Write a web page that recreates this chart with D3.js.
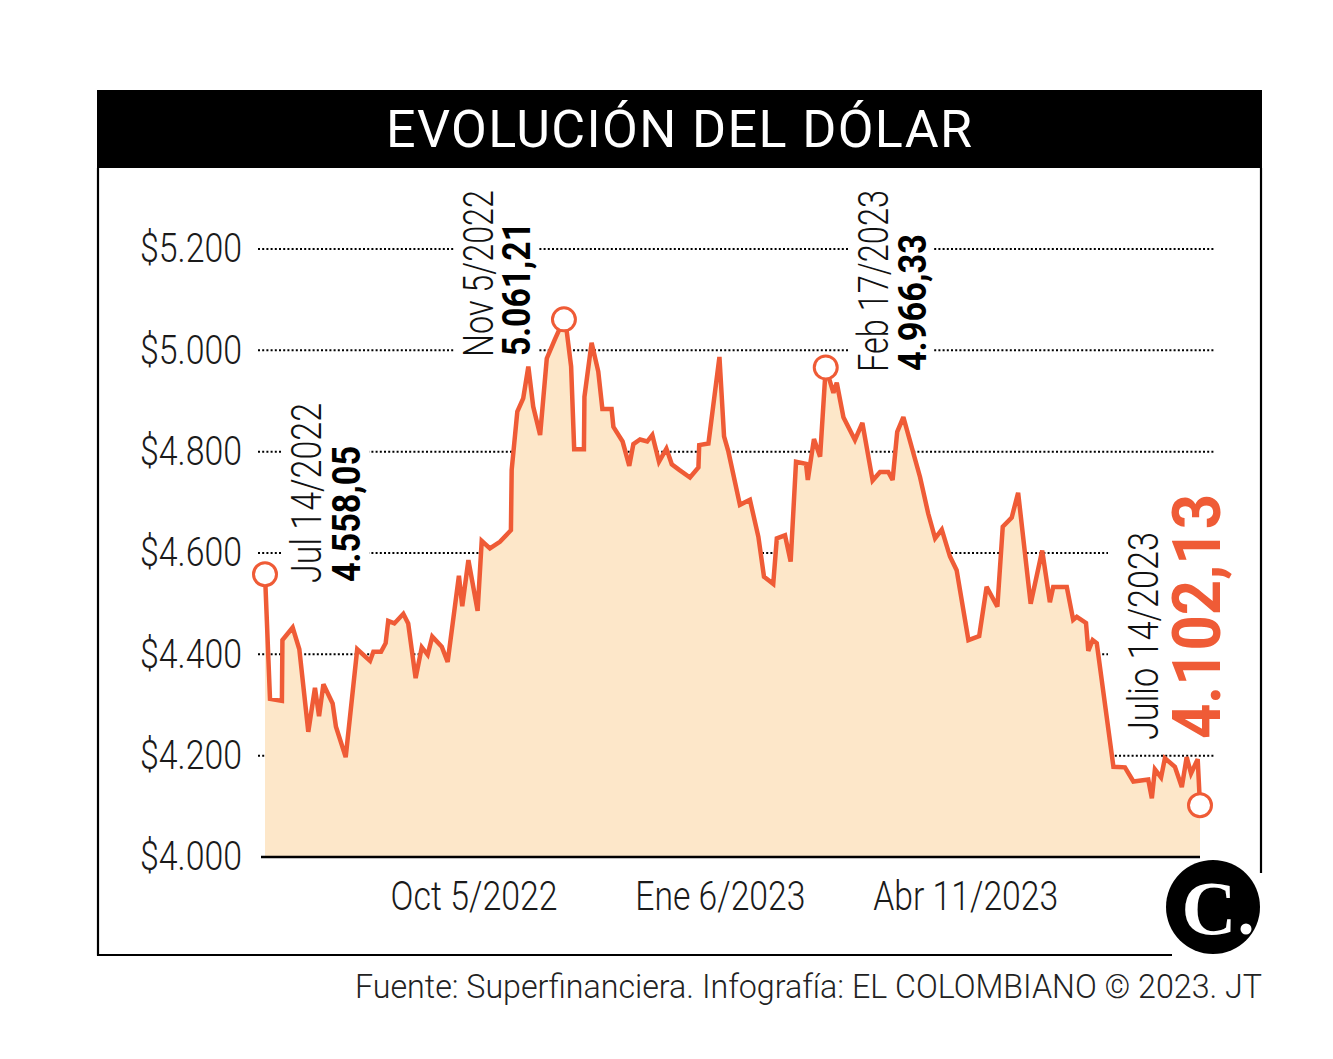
<!DOCTYPE html>
<html>
<head>
<meta charset="utf-8">
<script src="https://cdn.jsdelivr.net/npm/d3@7"></script>
<style>
  html, body { margin: 0; padding: 0; background: #fff; }
  svg { display: block; }
</style>
</head>
<body>
<script>
// ---------------- DATA ----------------
// Days elapsed since 14 Jul 2022 and dollar rate (COP) for each point
const startDate = new Date(2022, 6, 14);
const endDate = new Date(2023, 6, 14);
const days = [0, 1.95, 6.6, 6.8, 10.8, 13.4, 16.9, 19.5, 21.1, 22.8, 26.4, 27.7, 31.5, 36.0, 41.0, 42.3, 45.3, 47.1, 48.1, 50.5, 54.0, 55.9, 58.8, 61.2, 63.5, 65.3, 69.0, 71.3, 75.7, 77.0, 79.4, 83.0, 84.6, 87.8, 91.7, 96.0, 96.3, 98.5, 100.8, 102.8, 104.7, 107.4, 110.0, 113.2, 116.7, 117.8, 119.5, 120.7, 124.5, 124.7, 127.5, 130.1, 131.7, 135.3, 136.0, 139.6, 142.2, 143.8, 146.4, 149.2, 151.2, 153.8, 156.7, 158.8, 161.7, 165.9, 169.2, 169.5, 173.1, 177.4, 179.2, 180.9, 185.4, 189.3, 192.6, 194.8, 198.4, 199.8, 203.0, 205.2, 207.3, 211.2, 211.9, 214.3, 216.7, 218.9, 221.9, 223.2, 225.8, 230.3, 233.2, 237.2, 240.1, 243.3, 245.0, 246.8, 249.2, 255.7, 258.9, 261.6, 264.2, 267.4, 270.0, 274.6, 278.8, 281.7, 285.9, 288.0, 291.5, 294.0, 298.9, 303.4, 306.4, 307.7, 313.0, 315.5, 316.9, 320.5, 321.4, 323.1, 324.7, 331.2, 335.7, 339.0, 344.8, 346.2, 347.4, 349.8, 351.3, 355.2, 357.9, 359.8, 361.5, 364.1, 365];
const values = [4558.05, 4312, 4308, 4428, 4453, 4410, 4247, 4334, 4278, 4341, 4303, 4257, 4197, 4410, 4387, 4405, 4405, 4422, 4466, 4461, 4480, 4461, 4353, 4414, 4399, 4435, 4415, 4385, 4555, 4495, 4586, 4486, 4624, 4609, 4622, 4645, 4764, 4879, 4905, 4968, 4889, 4833, 4984, 5022, 5061.21, 5037, 4968, 4805, 4805, 4908, 5015, 4958, 4884, 4884, 4849, 4820, 4772, 4815, 4824, 4820, 4833, 4780, 4806, 4775, 4764, 4749, 4769, 4813, 4816, 4987, 4830, 4800, 4695, 4705, 4632, 4553, 4539, 4629, 4635, 4583, 4780, 4776, 4744, 4825, 4790, 4966.33, 4916, 4936, 4868, 4823, 4857, 4743, 4760, 4760, 4744, 4839, 4868, 4750, 4678, 4629, 4646, 4593, 4566, 4428, 4436, 4533, 4494, 4652, 4670, 4719, 4500, 4605, 4503, 4533, 4533, 4468, 4474, 4462, 4407, 4428, 4422, 4178, 4177, 4149, 4153, 4116, 4173, 4157, 4195, 4178, 4138, 4197, 4165, 4193, 4102.13];

const yTicks = [4000, 4200, 4400, 4600, 4800, 5000, 5200];
const yTickLabels = ["$4.000", "$4.200", "$4.400", "$4.600", "$4.800", "$5.000", "$5.200"];
const xTickDates = [new Date(2022, 9, 5), new Date(2023, 0, 6), new Date(2023, 3, 11)];
const xTickLabels = ["Oct 5/2022", "Ene 6/2023", "Abr 11/2023"];

// highlighted points: index in data, date label, value label
const highlightIdx = [0, 44, 85, 134];
const highlightDates = ["Jul 14/2022", "Nov 5/2022", "Feb 17/2023", "Julio 14/2023"];
const highlightValues = ["4.558,05", "5.061,21", "4.966,33", "4.102,13"];

const title = "EVOLUCIÓN DEL DÓLAR";
const source = "Fuente: Superfinanciera. Infografía: EL COLOMBIANO © 2023. JT";

// ---------------- LAYOUT ----------------
const W = 1333, H = 1059;
const ORANGE = "#EF5B36";
const FILL = "#FDE7C9";
const FONT = "Roboto, 'Noto Sans', sans-serif";

const data = days.map((d, i) => ({ date: new Date(startDate.getTime() + d * 864e5), value: values[i] }));

const x = d3.scaleTime().domain([startDate, endDate]).range([265, 1200]);
const y = d3.scaleLinear().domain([4000, 5200]).range([857, 249]);

const svg = d3.select("body").append("svg").attr("width", W).attr("height", H)
  .style("font-family", FONT);

// Frame
svg.append("rect").attr("x", 97).attr("y", 90).attr("width", 1165).attr("height", 78).attr("fill", "#000");
const frame = svg.append("g").attr("stroke", "#000").attr("stroke-width", 2.2).attr("fill", "none");
frame.append("line").attr("x1", 98).attr("x2", 98).attr("y1", 168).attr("y2", 955.5);
frame.append("line").attr("x1", 97).attr("x2", 1172).attr("y1", 955).attr("y2", 955);
frame.append("line").attr("x1", 1261).attr("x2", 1261).attr("y1", 168).attr("y2", 873);

svg.append("text").attr("x", 679).attr("y", 147).attr("text-anchor", "middle")
  .attr("fill", "#fff").attr("font-size", 52).attr("font-weight", 400)
  .attr("textLength", 586).attr("lengthAdjust", "spacing")
  .text(title);

// Grid
const gridG = svg.append("g");
gridG.selectAll("line").data(yTicks.filter(d => d !== 4000)).join("line")
  .attr("x1", 258).attr("x2", 1215)
  .attr("y1", d => y(d)).attr("y2", d => y(d))
  .attr("stroke", "#000").attr("stroke-width", 2).attr("stroke-dasharray", "2,2.2");

const maskG = svg.append("g");

// Y axis labels
const yAxis = svg.append("g").attr("transform", "translate(242,0)")
  .call(d3.axisLeft(y).tickValues(yTicks).tickSize(0).tickPadding(0)
    .tickFormat((d, i) => yTickLabels[i]));
yAxis.select(".domain").remove();
yAxis.selectAll("text").attr("font-size", 40).attr("font-weight", 300)
  .attr("fill", "#1a1a1a").attr("font-family", FONT)
  .attr("textLength", 102).attr("lengthAdjust", "spacingAndGlyphs");

// X axis labels
const xAxis = svg.append("g").attr("transform", "translate(0,857)")
  .call(d3.axisBottom(x).tickValues(xTickDates).tickSize(0).tickPadding(24.5)
    .tickFormat((d, i) => xTickLabels[i]));
xAxis.select(".domain").remove();
const xLens = [167, 170, 185];
const xShift = [-4, 4, 6];
xAxis.selectAll("text").attr("font-size", 40).attr("font-weight", 300)
  .attr("fill", "#1a1a1a").attr("font-family", FONT)
  .attr("dx", (d, i) => xShift[i])
  .attr("textLength", (d, i) => xLens[i]).attr("lengthAdjust", "spacingAndGlyphs");

// Area + line
const area = d3.area().x(d => x(d.date)).y0(y(4000)).y1(d => y(d.value));
const line = d3.line().x(d => x(d.date)).y(d => y(d.value));
svg.append("path").datum(data).attr("d", area).attr("fill", FILL);
svg.append("line").attr("x1", 261).attr("x2", 1200).attr("y1", y(4000)).attr("y2", y(4000))
  .attr("stroke", "#000").attr("stroke-width", 2.5);
svg.append("path").datum(data).attr("d", line).attr("fill", "none")
  .attr("stroke", ORANGE).attr("stroke-width", 4.5).attr("stroke-linejoin", "miter")
  .attr("stroke-miterlimit", 3);

// Annotations
const annot = [
  { dxL: 56, dxB: 95, bottom: 583, lenL: 180, lenB: 136, fsL: 42, fsB: 38, color: "#000", padL: 0, padR: 0 },
  { dxL: -71, dxB: -34, bottom: 357, lenL: 167, lenB: 134, fsL: 42, fsB: 38, color: "#000", padL: 0, padR: -1 },
  { dxL: 62, dxB: 100, bottom: 372, lenL: 182, lenB: 137, fsL: 42, fsB: 38, color: "#000", padL: 0, padR: -2 },
  { dxL: -42, dxB: 20, bottom: 740, lenL: 208, lenB: 245, fsL: 42, fsB: 66, color: ORANGE, padL: 11, padR: 0 }
];
highlightIdx.forEach((idx, k) => {
  const a = annot[k];
  const px = x(data[idx].date);
  const g = svg.append("g");
  g.append("text").attr("transform", `translate(${px + a.dxL},${a.bottom}) rotate(-90)`)
    .attr("font-size", a.fsL).attr("font-weight", 300).attr("fill", "#111")
    .attr("textLength", a.lenL).attr("lengthAdjust", "spacingAndGlyphs")
    .text(highlightDates[k]);
  g.append("text").attr("transform", `translate(${px + a.dxB},${a.bottom - 1}) rotate(-90)`)
    .attr("font-size", a.fsB).attr("font-weight", 700).attr("fill", a.color)
    .attr("textLength", a.lenB).attr("lengthAdjust", "spacingAndGlyphs")
    .text(highlightValues[k]);
  const bb = g.node().getBBox();
  maskG.append("rect").attr("x", bb.x - a.padL).attr("y", bb.y - 4)
    .attr("width", bb.width + a.padL + a.padR).attr("height", bb.height + 8)
    .attr("fill", "#fff");
});

// Markers
svg.selectAll("circle.mk").data(highlightIdx.map(i => data[i])).join("circle")
  .attr("class", "mk").attr("cx", d => x(d.date)).attr("cy", d => y(d.value)).attr("r", 11.5)
  .attr("fill", "#fff").attr("stroke", ORANGE).attr("stroke-width", 3);

// Logo
svg.append("circle").attr("cx", 1213).attr("cy", 907).attr("r", 47).attr("fill", "#000");
svg.append("text").attr("x", 1209).attr("y", 934).attr("text-anchor", "middle")
  .attr("font-family", "'Liberation Serif', 'DejaVu Serif', serif").attr("font-weight", 700)
  .attr("font-size", 76).attr("fill", "#fff").text("C");
svg.append("circle").attr("cx", 1246).attr("cy", 929).attr("r", 5.5).attr("fill", "#fff");

// Source
svg.append("text").attr("x", 1262).attr("y", 998).attr("text-anchor", "end")
  .attr("font-size", 33).attr("font-weight", 300).attr("fill", "#222")
  .attr("textLength", 907).attr("lengthAdjust", "spacingAndGlyphs")
  .text(source);
</script>
</body>
</html>
